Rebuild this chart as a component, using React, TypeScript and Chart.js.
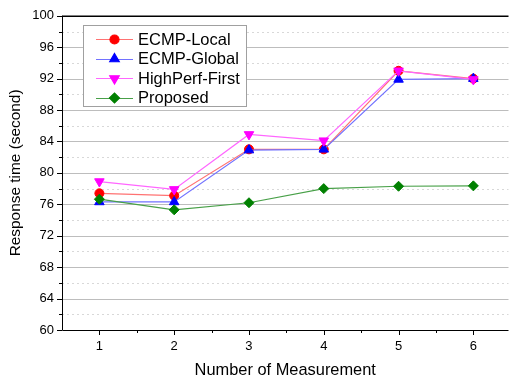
import React, { useEffect, useRef } from "react";
import { Chart, registerables } from "chart.js";
import { drawPoint } from "chart.js/helpers";

Chart.register(...registerables);

const CATEGORIES = [1, 2, 3, 4, 5, 6];
const ECMP_LOCAL = [77.4, 77.1, 83.0, 83.0, 93.0, 92.0];
const ECMP_GLOBAL = [76.3, 76.3, 82.9, 83.0, 91.9, 92.0];
const HIGHPERF_FIRST = [78.9, 77.9, 84.9, 84.1, 93.0, 91.9];
const PROPOSED = [76.65, 75.3, 76.2, 78.0, 78.3, 78.35];
const Y_TICKS = [60, 64, 68, 72, 76, 80, 84, 88, 92, 96, 100];
const X_TICKS = [1, 2, 3, 4, 5, 6];

const FONT = '"Liberation Sans", Arial, sans-serif';

type SeriesDef = {
  label: string;
  data: number[];
  line: string;
  marker: string;
  pointStyle: string;
  rotation: number;
  radius: number;
  order: number;
};

const SERIES: SeriesDef[] = [
  { label: "ECMP-Local", data: ECMP_LOCAL, line: "#ff7272", marker: "#ff0000", pointStyle: "circle", rotation: 0, radius: 4.5, order: 4 },
  { label: "ECMP-Global", data: ECMP_GLOBAL, line: "#7272ff", marker: "#0000ff", pointStyle: "triangle", rotation: 0, radius: 5.5, order: 3 },
  { label: "HighPerf-First", data: HIGHPERF_FIRST, line: "#ff66ff", marker: "#ff00ff", pointStyle: "triangle", rotation: 180, radius: 5.5, order: 2 },
  { label: "Proposed", data: PROPOSED, line: "#48a048", marker: "#008000", pointStyle: "rectRot", rotation: 0, radius: 5, order: 1 },
];

const framePlugin = {
  id: "frame",
  beforeDatasetsDraw(chart: any) {
    const { ctx, chartArea } = chart;
    const { left, right, top, bottom } = chartArea;
    const x = chart.scales.x;
    const y = chart.scales.y;
    ctx.save();
    ctx.lineWidth = 1;
    for (let i = 0; i < Y_TICKS.length - 1; i++) {
      const v = (Y_TICKS[i] + Y_TICKS[i + 1]) / 2;
      const py = Math.round(y.getPixelForValue(v)) + 0.5;
      ctx.strokeStyle = "#d8d8d8";
      ctx.setLineDash([2, 3]);
      ctx.beginPath();
      ctx.moveTo(left, py);
      ctx.lineTo(right, py);
      ctx.stroke();
    }
    ctx.setLineDash([]);
    for (const v of Y_TICKS) {
      if (v === Y_TICKS[0] || v === Y_TICKS[Y_TICKS.length - 1]) continue;
      const py = Math.round(y.getPixelForValue(v)) + 0.5;
      ctx.strokeStyle = "#bdbdbd";
      ctx.beginPath();
      ctx.moveTo(left, py);
      ctx.lineTo(right, py);
      ctx.stroke();
    }
    ctx.strokeStyle = "#000";
    ctx.lineWidth = 1.5;
    ctx.beginPath();
    ctx.moveTo(left, top + 0.5);
    ctx.lineTo(right, top + 0.5);
    ctx.stroke();
    ctx.lineWidth = 1;
    ctx.beginPath();
    ctx.moveTo(left + 0.5, top);
    ctx.lineTo(left + 0.5, bottom + 0.5);
    ctx.lineTo(right, bottom + 0.5);
    ctx.stroke();
    ctx.beginPath();
    for (let i = 0; i < Y_TICKS.length; i++) {
      const py = Math.round(y.getPixelForValue(Y_TICKS[i])) + 0.5;
      ctx.moveTo(left - 5, py);
      ctx.lineTo(left, py);
      if (i < Y_TICKS.length - 1) {
        const pm = Math.round(y.getPixelForValue((Y_TICKS[i] + Y_TICKS[i + 1]) / 2)) + 0.5;
        ctx.moveTo(left - 3, pm);
        ctx.lineTo(left, pm);
      }
    }
    for (let i = 0; i < X_TICKS.length; i++) {
      const px = Math.round(x.getPixelForValue(X_TICKS[i])) + 0.5;
      ctx.moveTo(px, bottom);
      ctx.lineTo(px, bottom + 5);
      if (i < X_TICKS.length - 1) {
        const pm = Math.round(x.getPixelForValue((X_TICKS[i] + X_TICKS[i + 1]) / 2)) + 0.5;
        ctx.moveTo(pm, bottom);
        ctx.lineTo(pm, bottom + 3);
      }
    }
    ctx.stroke();
    ctx.restore();
  },
  afterDatasetsDraw(chart: any) {
    const { ctx } = chart;
    ctx.save();
    const bx = 83.5, by = 25.5, bw = 163, bh = 81;
    ctx.fillStyle = "#ffffff";
    ctx.fillRect(bx, by, bw, bh);
    ctx.strokeStyle = "#a0a0a0";
    ctx.lineWidth = 1;
    ctx.strokeRect(bx, by, bw, bh);
    const rows = [39, 58.5, 78, 97.5];
    ctx.font = `16.5px ${FONT}`;
    ctx.textBaseline = "middle";
    ctx.textAlign = "left";
    SERIES.forEach((s, i) => {
      const ry = rows[i];
      ctx.setLineDash([]);
      ctx.strokeStyle = s.line;
      ctx.lineWidth = 1.2;
      ctx.beginPath();
      ctx.moveTo(96, Math.round(ry) + 0.5);
      ctx.lineTo(133, Math.round(ry) + 0.5);
      ctx.stroke();
      ctx.fillStyle = s.marker;
      ctx.strokeStyle = s.marker;
      drawPoint(ctx, { pointStyle: s.pointStyle as any, rotation: s.rotation, radius: s.radius, borderWidth: 1 }, 114.5, ry + 0.5);
      ctx.fillStyle = "#000";
      ctx.fillText(s.label, 138, ry + 1);
    });
    ctx.restore();
  },
};

export default function App() {
  const ref = useRef<HTMLCanvasElement | null>(null);
  useEffect(() => {
    if (!ref.current) return;
    const chart = new Chart(ref.current, {
      type: "line",
      data: {
        datasets: SERIES.map((s) => ({
          label: s.label,
          data: CATEGORIES.map((c, i) => ({ x: c, y: s.data[i] })),
          borderColor: s.line,
          borderWidth: 1.2,
          backgroundColor: s.marker,
          pointBackgroundColor: s.marker,
          pointBorderColor: s.marker,
          pointBorderWidth: 1,
          pointStyle: s.pointStyle as any,
          pointRotation: s.rotation,
          pointRadius: s.radius,
          tension: 0,
          fill: false,
          order: s.order,
        })),
      },
      options: {
        animation: false,
        responsive: false,
        layout: { padding: { top: 12, right: 0, left: 0, bottom: 0 } },
        plugins: { legend: { display: false }, tooltip: { enabled: false } },
        scales: {
          x: {
            type: "linear",
            min: 0.5,
            max: 6.47,
            grid: { display: false, drawTicks: false },
            border: { display: false },
            afterBuildTicks: (scale: any) => {
              scale.ticks = X_TICKS.map((v) => ({ value: v }));
            },
            afterFit: (scale: any) => {
              scale.height = 51;
            },
            ticks: {
              padding: 9,
              color: "#000",
              font: { family: FONT, size: 13 },
              maxRotation: 0,
              callback: (v: any) => String(v),
            },
            title: {
              display: true,
              text: "Number of Measurement",
              color: "#000",
              font: { family: FONT, size: 16.4 },
              padding: { top: 0, bottom: 1 },
            },
          },
          y: {
            type: "linear",
            min: 60,
            max: 100,
            grid: { display: false, drawTicks: false },
            border: { display: false },
            afterBuildTicks: (scale: any) => {
              scale.ticks = Y_TICKS.map((v) => ({ value: v }));
            },
            afterFit: (scale: any) => {
              scale.width = 62;
            },
            ticks: {
              padding: 8,
              color: "#000",
              font: { family: FONT, size: 13 },
              callback: (v: any) => String(v),
            },
            title: {
              display: true,
              text: "Response time (second)",
              color: "#000",
              font: { family: FONT, size: 15.4 },
              padding: { top: 7, bottom: 0 },
            },
          },
        },
      },
      plugins: [framePlugin],
    });
    return () => chart.destroy();
  }, []);
  return (
    <div style={{ position: "absolute", left: 0, top: 0, width: 515, height: 381, background: "#fff" }}>
      <canvas ref={ref} width={515} height={381} />
    </div>
  );
}
